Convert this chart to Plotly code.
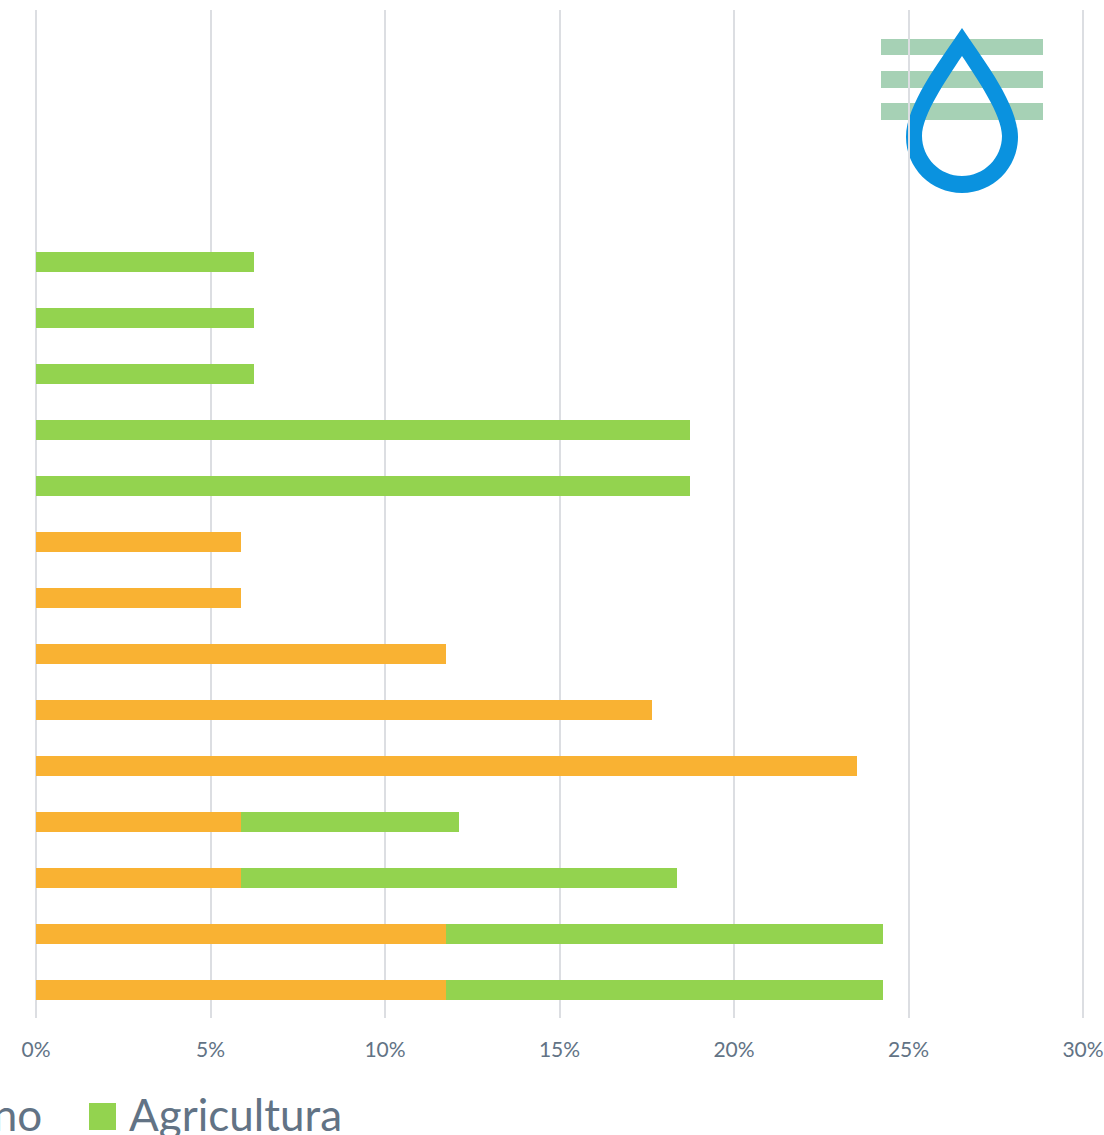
"""
Horizontal stacked percentage bars with a water drop logo.
"""

import plotly.graph_objects as go

W, H = 1104, 1135
# 2 px of slack each side so plotly keeps the gridlines at 0% and 30%
LEFT, RIGHT, TOP, BOTTOM = 34, 19, 10, 117
SLACK = 2 * 30 / 1047

# Bottom row first; the four top rows are empty in the source
categories = [f"c{i}" for i in range(1, 19)]
humano = [11.76, 11.76, 5.88, 5.88, 23.53, 17.65, 11.76, 5.88, 5.88,
          0, 0, 0, 0, 0, 0, 0, 0, 0]
agricultura = [12.5, 12.5, 12.5, 6.25, 0, 0, 0, 0, 0,
               18.75, 18.75, 6.25, 6.25, 6.25, 0, 0, 0, 0]
x_ticks = [0, 5, 10, 15, 20, 25, 30]
x_labels = ['0%', '5%', '10%', '15%', '20%', '25%', '30%']

ORANGE = '#F9B233'
GREEN = '#93D34F'
GRID = '#DCDEE2'
TEXT = '#627385'
FONT = 'Lato'


def px_x(x):
    return (x - LEFT) / (W - LEFT - RIGHT)


def px_y(y):
    return 1 - (y - TOP) / (H - TOP - BOTTOM)


def drop_path(segments):
    # segments are pixel coordinates: start point, then cubic triples
    start, *curves = segments
    out = f"M {px_x(start[0])},{px_y(start[1])}"
    for c in curves:
        out += " C " + " ".join(f"{px_x(a)},{px_y(b)}" for a, b in c)
    return out + " Z"


outer = [(962, 28),
         ((985, 62), (1018, 105), (1018, 137)),
         ((1018, 168), (993, 193), (962, 193)),
         ((931, 193), (906, 168), (906, 137)),
         ((906, 105), (939, 62), (962, 28))]
inner = [(962, 56),
         ((978, 80), (1002, 115), (1002, 136)),
         ((1002, 158), (984, 176), (962, 176)),
         ((940, 176), (922, 158), (922, 136)),
         ((922, 115), (946, 80), (962, 56))]

fig = go.Figure()
fig.add_bar(y=categories, x=humano, orientation='h', name='Humano',
            marker=dict(color=ORANGE, line_width=0))
fig.add_bar(y=categories, x=agricultura, orientation='h', name='Agricultura',
            marker=dict(color=GREEN, line_width=0))

# Logo
for y0, y1 in [(39, 55), (71, 88), (103, 120)]:
    fig.add_shape(type='rect', xref='paper', yref='paper', layer='below',
                  x0=px_x(881), x1=px_x(1043), y0=px_y(y1), y1=px_y(y0),
                  fillcolor='#A6D1B5', line_width=0)
fig.add_shape(type='path', xref='paper', yref='paper', layer='below',
              path=drop_path(outer) + " " + drop_path(inner),
              fillcolor='#0A92DF', line_width=0)

# Legend, cut off by the left edge as in the source
fig.add_shape(type='rect', xref='paper', yref='paper',
              x0=px_x(89), x1=px_x(116), y0=px_y(1130), y1=px_y(1103),
              fillcolor=GREEN, line_width=0)
fig.add_annotation(text='Humano', xref='paper', yref='paper', showarrow=False,
                   x=px_x(44), y=px_y(1114), xanchor='right', yanchor='middle',
                   font=dict(family=FONT, size=44, color=TEXT))
fig.add_annotation(text='Agricultura', xref='paper', yref='paper', showarrow=False,
                   x=px_x(127), y=px_y(1114), xanchor='left', yanchor='middle',
                   font=dict(family=FONT, size=44, color=TEXT))

fig.update_layout(
    width=W, height=H, barmode='stack', bargap=0.643, showlegend=False,
    margin=dict(l=LEFT, r=RIGHT, t=TOP, b=BOTTOM, pad=0, autoexpand=False),
    paper_bgcolor='white', plot_bgcolor='white',
    font=dict(family=FONT, color=TEXT),
)
fig.update_xaxes(range=[-SLACK, 30 + SLACK], tickvals=x_ticks, ticktext=x_labels,
                 showgrid=True, gridcolor=GRID, gridwidth=2, zeroline=False,
                 showline=False, ticks='', ticklabelstandoff=17,
                 tickfont=dict(size=21, color=TEXT))
fig.update_yaxes(categoryorder='array', categoryarray=categories,
                 range=[-0.5, 17.5], showticklabels=False, showgrid=False,
                 zeroline=False, showline=False, ticks='')

fig.write_html("out.html", config=dict(displayModeBar=False),
               post_script="document.body.style.margin='0';")
